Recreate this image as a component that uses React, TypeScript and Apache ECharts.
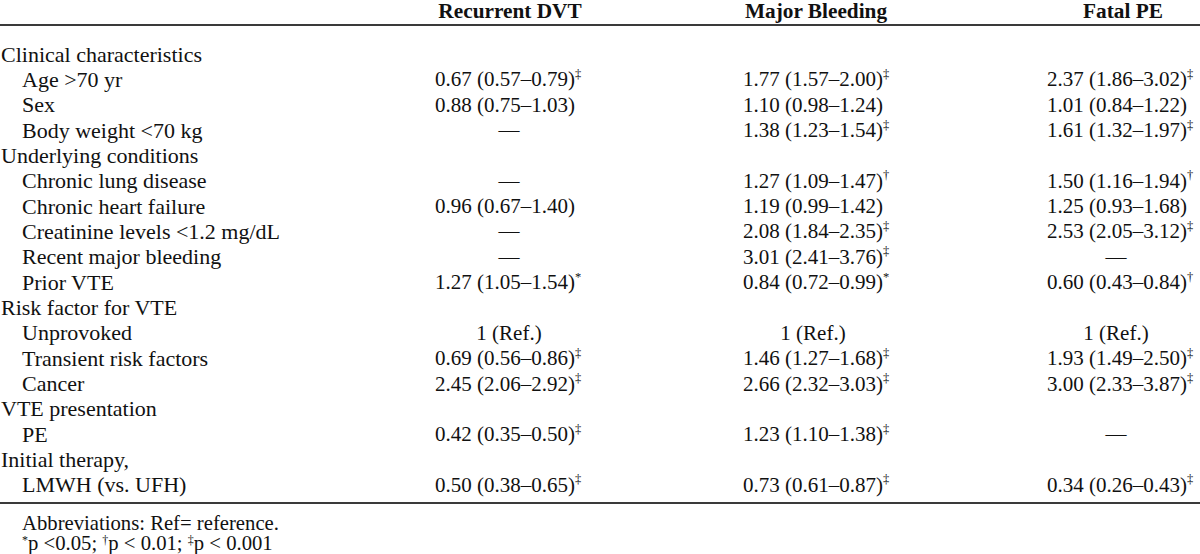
import React, { useEffect, useRef } from "react";
import * as echarts from "echarts";

const FONT = '"Liberation Serif", "Times New Roman", serif';

const columnHeaders = ["Recurrent DVT", "Major Bleeding", "Fatal PE"];

const rowLabels = [
  "Clinical characteristics",
  "Age >70 yr",
  "Sex",
  "Body weight <70 kg",
  "Underlying conditions",
  "Chronic lung disease",
  "Chronic heart failure",
  "Creatinine levels <1.2 mg/dL",
  "Recent major bleeding",
  "Prior VTE",
  "Risk factor for VTE",
  "Unprovoked",
  "Transient risk factors",
  "Cancer",
  "VTE presentation",
  "PE",
  "Initial therapy,",
  "LMWH (vs. UFH)",
];

const rowIsGroup = [
  true, false, false, false, true, false, false, false, false, false,
  true, false, false, false, true, false, true, false,
];

const dvtValues = [
  "", "0.67 (0.57–0.79)", "0.88 (0.75–1.03)", "—", "", "—", "0.96 (0.67–1.40)", "—", "—",
  "1.27 (1.05–1.54)", "", "1 (Ref.)", "0.69 (0.56–0.86)", "2.45 (2.06–2.92)", "",
  "0.42 (0.35–0.50)", "", "0.50 (0.38–0.65)",
];
const dvtSig = ["", "‡", "", "", "", "", "", "", "", "*", "", "", "‡", "‡", "", "‡", "", "‡"];

const mbValues = [
  "", "1.77 (1.57–2.00)", "1.10 (0.98–1.24)", "1.38 (1.23–1.54)", "", "1.27 (1.09–1.47)",
  "1.19 (0.99–1.42)", "2.08 (1.84–2.35)", "3.01 (2.41–3.76)", "0.84 (0.72–0.99)", "",
  "1 (Ref.)", "1.46 (1.27–1.68)", "2.66 (2.32–3.03)", "", "1.23 (1.10–1.38)", "",
  "0.73 (0.61–0.87)",
];
const mbSig = ["", "‡", "", "‡", "", "†", "", "‡", "‡", "*", "", "", "‡", "‡", "", "‡", "", "‡"];

const fatalValues = [
  "", "2.37 (1.86–3.02)", "1.01 (0.84–1.22)", "1.61 (1.32–1.97)", "", "1.50 (1.16–1.94)",
  "1.25 (0.93–1.68)", "2.53 (2.05–3.12)", "—", "0.60 (0.43–0.84)", "", "1 (Ref.)",
  "1.93 (1.49–2.50)", "3.00 (2.33–3.87)", "", "—", "", "0.34 (0.26–0.43)",
];
const fatalSig = ["", "‡", "", "‡", "", "†", "", "‡", "", "†", "", "", "‡", "‡", "", "", "", "‡"];

const footnoteAbbrev = "Abbreviations: Ref= reference.";
const footnoteSig = [
  { mark: "*", text: "p <0.05; " },
  { mark: "†", text: "p < 0.01; " },
  { mark: "‡", text: "p < 0.001" },
];

export default function App() {
  const ref = useRef<HTMLDivElement>(null);

  useEffect(() => {
    document.body.style.margin = "0";
    const chart = echarts.init(ref.current!, null, { renderer: "svg" });

    const FS = 21;
    const rich = {
      v: { fontSize: FS, fontFamily: FONT, lineHeight: 24, fill: "#111", verticalAlign: "middle" },
      s: { fontSize: 12.5, fontFamily: FONT, lineHeight: 17, fill: "#111", verticalAlign: "top" },
    };
    const richFoot = {
      v: { fontSize: 20.7, fontFamily: FONT, lineHeight: 19, fill: "#111", verticalAlign: "middle" },
      s: { fontSize: 12, fontFamily: FONT, lineHeight: 13, fill: "#111", verticalAlign: "top" },
    };

    const rowY = (i: number) => 54 + i * 25.35;
    const colLeft = [435, 743, 1047];
    const colCenter = [509, 813, 1116];
    const headerCenter = [510, 816, 1123];

    const elements: any[] = [];

    columnHeaders.forEach((h, c) => {
      elements.push({
        type: "text",
        x: headerCenter[c],
        y: 11,
        style: {
          text: h,
          fontFamily: FONT,
          fontSize: 21.3,
          fontWeight: "bold",
          lineHeight: 17,
          fill: "#111",
          align: "center",
          verticalAlign: "middle",
        },
      });
    });

    elements.push({
      type: "line",
      shape: { x1: 0, y1: 25, x2: 1200, y2: 25 },
      style: { stroke: "#3a3a3a", lineWidth: 2 },
    });
    elements.push({
      type: "line",
      shape: { x1: 0, y1: 503, x2: 1200, y2: 503 },
      style: { stroke: "#3a3a3a", lineWidth: 2 },
    });

    rowLabels.forEach((lab, i) => {
      elements.push({
        type: "text",
        x: rowIsGroup[i] ? 1 : 22,
        y: rowY(i),
        style: {
          text: lab,
          fontFamily: FONT,
          fontSize: 22,
          lineHeight: 22,
          fill: "#111",
          align: "left",
          verticalAlign: "middle",
        },
      });
    });

    const cols = [
      [dvtValues, dvtSig],
      [mbValues, mbSig],
      [fatalValues, fatalSig],
    ];
    cols.forEach(([vals, sigs], c) => {
      vals.forEach((v, i) => {
        if (!v) return;
        const centered = v === "—" || v.indexOf("Ref") >= 0;
        const txt = sigs[i] ? `{v|${v}}{s|${sigs[i]}}` : `{v|${v}}`;
        elements.push({
          type: "text",
          x: centered ? colCenter[c] : colLeft[c],
          y: rowY(i),
          style: {
            text: txt,
            rich,
            fontFamily: FONT,
            fontSize: FS,
            align: centered ? "center" : "left",
            verticalAlign: "middle",
          },
        });
      });
    });

    elements.push({
      type: "text",
      x: 22,
      y: 523,
      style: {
        text: footnoteAbbrev,
        fontFamily: FONT,
        fontSize: 20.7,
        lineHeight: 19,
        fill: "#111",
        align: "left",
        verticalAlign: "middle",
      },
    });
    elements.push({
      type: "text",
      x: 22,
      y: 543,
      style: {
        text: footnoteSig.map((f) => `{s|${f.mark}}{v|${f.text}}`).join(""),
        rich: richFoot,
        fontFamily: FONT,
        fontSize: 20.7,
        align: "left",
        verticalAlign: "middle",
      },
    });

    chart.setOption({
      animation: false,
      backgroundColor: "#ffffff",
      graphic: { elements },
    });

    return () => chart.dispose();
  }, []);

  return <div ref={ref} style={{ width: 1200, height: 554 }} />;
}
